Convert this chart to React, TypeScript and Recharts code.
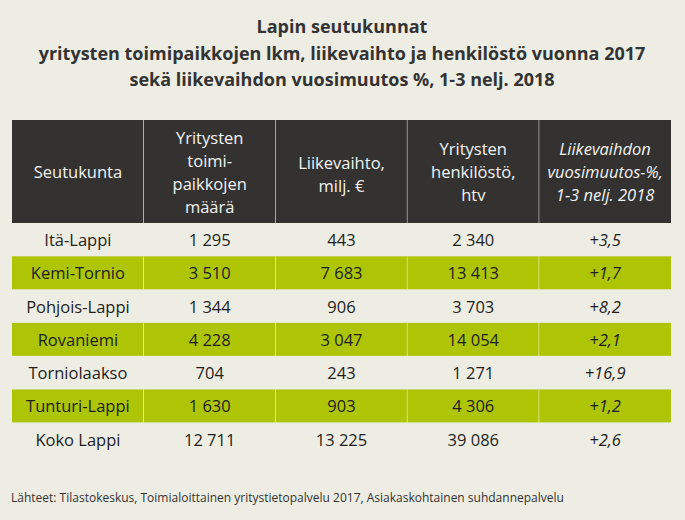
import React from 'react';
import { BarChart, Bar, XAxis, YAxis, LabelList } from 'recharts';

const titleLines = [
  'Lapin seutukunnat',
  'yritysten toimipaikkojen lkm, liikevaihto ja henkilöstö vuonna 2017',
  'sekä liikevaihdon vuosimuutos %, 1-3 nelj. 2018',
];
const footer = 'Lähteet: Tilastokeskus, Toimialoittainen yritystietopalvelu 2017, Asiakaskohtainen suhdannepalvelu';

const headers: string[][] = [
  ['Seutukunta'],
  ['Yritysten', 'toimi-', 'paikkojen', 'määrä'],
  ['Liikevaihto,', 'milj. €'],
  ['Yritysten', 'henkilöstö,', 'htv'],
  ['Liikevaihdon', 'vuosimuutos-%,', '1-3 nelj. 2018'],
];

const regions = ['Itä-Lappi', 'Kemi-Tornio', 'Pohjois-Lappi', 'Rovaniemi', 'Torniolaakso', 'Tunturi-Lappi', 'Koko Lappi'];
const toimipaikat = [1295, 3510, 1344, 4228, 704, 1630, 12711];
const liikevaihto = [443, 7683, 906, 3047, 243, 903, 13225];
const henkilosto = [2340, 13413, 3703, 14054, 1271, 4306, 39086];
const muutos = [3.5, 1.7, 8.2, 2.1, 16.9, 1.2, 2.6];

// relative column widths (one unit each)
const columnKeys = ['c1', 'c2', 'c3', 'c4', 'c5'];
const columnUnits = [1, 1, 1, 1, 1];

const FONT = '"Open Sans", "Noto Sans", sans-serif';
const BG = '#eeede3';
const GREEN = '#adc505';
const DARK = '#333231';
const TEXT = '#1e1e1e';

const fmtInt = (v: number) => String(v).replace(/\B(?=(\d{3})+(?!\d))/g, ' ');
const fmtPct = (v: number) => '+' + v.toFixed(1).replace('.', ',');

const bodyRows = regions.map((r, i) => {
  const row: any = {
    name: r,
    t1: r,
    t2: fmtInt(toimipaikat[i]),
    t3: fmtInt(liikevaihto[i]),
    t4: fmtInt(henkilosto[i]),
    t5: fmtPct(muutos[i]),
  };
  columnKeys.forEach((k, j) => (row[k] = columnUnits[j]));
  return row;
});

const headerRows = [
  (() => {
    const row: any = { name: 'header' };
    columnKeys.forEach((k, j) => (row[k] = columnUnits[j]));
    headers.forEach((h, j) => (row['t' + (j + 1)] = h.join('\n')));
    return row;
  })(),
];

const makeCellShape = (isHeader: boolean, lastCol: boolean) => (props: any) => {
  const { x, y, width, height, index } = props;
  const filled = isHeader || index % 2 === 1;
  const fill = isHeader ? DARK : filled ? GREEN : 'none';
  return (
    <g>
      <rect x={x} y={y} width={width} height={height} fill={fill} />
      {filled && !lastCol && (
        <line x1={x + width} x2={x + width} y1={y} y2={y + height} stroke="#ffffff" strokeWidth={1} />
      )}
    </g>
  );
};

const getBox = (props: any) => {
  const vb = props.viewBox || {};
  return {
    x: props.x ?? vb.x,
    y: props.y ?? vb.y,
    width: props.width ?? vb.width,
    height: props.height ?? vb.height,
  };
};

const makeBodyLabel = (col: number) => (props: any) => {
  const { x, y, width, height } = getBox(props);
  return (
    <text
      x={x + width / 2}
      y={y + height / 2}
      textAnchor="middle"
      dominantBaseline="central"
      fontFamily={FONT}
      fontSize={16.5}
      fontStyle={col === 4 ? 'italic' : 'normal'}
      fill={TEXT}
    >
      {props.value}
    </text>
  );
};

const headerOffsets = [0, 0, 2, 0, 0];

const makeHeaderLabel = (col: number) => (props: any) => {
  const { x, y, width, height } = getBox(props);
  const lines = String(props.value).split('\n');
  const lh = 23;
  const startY = y + height / 2 - ((lines.length - 1) * lh) / 2 + headerOffsets[col];
  return (
    <text
      textAnchor="middle"
      fontFamily={FONT}
      fontSize={16.5}
      fontStyle={col === 4 ? 'italic' : 'normal'}
      fill="#f2f2f2"
    >
      {lines.map((l, i) => (
        <tspan key={i} x={x + width / 2} y={startY + i * lh} dominantBaseline="central">
          {l}
        </tspan>
      ))}
    </text>
  );
};

const totalUnits = columnUnits.reduce((a, b) => a + b, 0);

function TableChart({ data, isHeader, height }: { data: any[]; isHeader: boolean; height: number }) {
  return (
    <BarChart
      width={685}
      height={height}
      data={data}
      layout="vertical"
      margin={{ top: 0, right: 14, bottom: 0, left: 12 }}
      barCategoryGap={0}
      barGap={0}
    >
      <XAxis type="number" hide domain={[0, totalUnits]} />
      <YAxis type="category" dataKey="name" hide />
      {columnKeys.map((k, j) => (
        <Bar
          key={k}
          dataKey={k}
          stackId="cols"
          isAnimationActive={false}
          shape={makeCellShape(isHeader, j === columnKeys.length - 1)}
        >
          <LabelList
            dataKey={'t' + (j + 1)}
            content={isHeader ? makeHeaderLabel(j) : makeBodyLabel(j)}
          />
        </Bar>
      ))}
    </BarChart>
  );
}

export default function App() {
  return (
    <div
      style={{
        position: 'absolute',
        left: 0,
        top: 0,
        width: 685,
        height: 520,
        background: BG,
        overflow: 'hidden',
      }}
    >
      <svg width={685} height={110} style={{ position: 'absolute', left: 0, top: 0 }}>
        {titleLines.map((t, i) => (
          <text
            key={i}
            x={342}
            y={26 + i * 26.5}
            textAnchor="middle"
            dominantBaseline="central"
            fontFamily={FONT}
            fontWeight={700}
            fontSize={18}
            fill="#333333"
          >
            {t}
          </text>
        ))}
      </svg>
      <div style={{ position: 'absolute', left: 0, top: 120 }}>
        <TableChart data={headerRows} isHeader={true} height={103} />
      </div>
      <div style={{ position: 'absolute', left: 0, top: 223 }}>
        <TableChart data={bodyRows} isHeader={false} height={233} />
      </div>
      <svg width={685} height={30} style={{ position: 'absolute', left: 0, top: 482 }}>
        <text x={11} y={15} dominantBaseline="central" fontFamily={FONT} fontSize={12} fill="#333333">
          {footer}
        </text>
      </svg>
    </div>
  );
}
